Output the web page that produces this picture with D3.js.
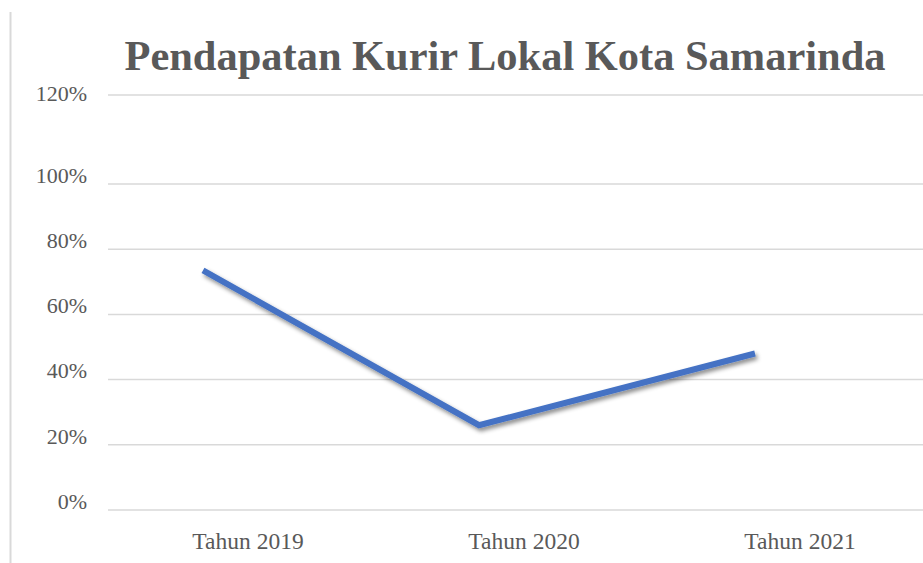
<!DOCTYPE html>
<html>
<head>
<meta charset="utf-8">
<script src="https://cdn.jsdelivr.net/npm/d3@7"></script>
<style>
  body { margin: 0; background: #fff; }
  svg { display: block; }
  text { font-family: "Liberation Serif", "Times New Roman", serif; fill: #595959; }
</style>
</head>
<body>
<svg id="chart" width="923" height="563"></svg>
<script>
const title = "Pendapatan Kurir Lokal Kota Samarinda";
const categories = ["Tahun 2019", "Tahun 2020", "Tahun 2021"];
const values = [0.735, 0.26, 0.48];
const yTicks = [0, 0.2, 0.4, 0.6, 0.8, 1.0, 1.2];

const svg = d3.select("#chart");

// the original axis has a wider gap between 100% and 120%
const y = d3.scaleLinear().domain([0, 1, 1.2]).range([510, 184, 95]);
const x = d3.scaleBand().domain(categories).range([110, 938]);
const lineShift = -45; // line sits left of the category labels in the source

const defs = svg.append("defs");
defs.append("filter")
    .attr("id", "shadow")
    .attr("x", "-20%").attr("y", "-20%")
    .attr("width", "140%").attr("height", "140%")
    .append("feDropShadow")
    .attr("dx", 2).attr("dy", 3)
    .attr("stdDeviation", 2)
    .attr("flood-color", "#000")
    .attr("flood-opacity", 0.45);

// left border of the chart area
svg.append("line")
    .attr("x1", 10.5).attr("x2", 10.5)
    .attr("y1", 12).attr("y2", 563)
    .attr("stroke", "#d9d9d9")
    .attr("stroke-width", 2);

svg.append("text")
    .attr("x", 505)
    .attr("y", 70)
    .attr("text-anchor", "middle")
    .attr("textLength", 761)
    .attr("lengthAdjust", "spacingAndGlyphs")
    .style("font-size", "42px")
    .style("font-weight", "bold")
    .text(title);

// grid
svg.append("g")
    .selectAll("line")
    .data(yTicks)
    .join("line")
    .attr("x1", 108)
    .attr("x2", 938)
    .attr("y1", d => y(d))
    .attr("y2", d => y(d))
    .attr("stroke", "#d9d9d9")
    .attr("stroke-width", 1.5);

// y tick labels
svg.append("g")
    .selectAll("text")
    .data(yTicks)
    .join("text")
    .attr("x", 87)
    .attr("y", d => y(d) + (d === 1.2 ? -2 : -9))
    .attr("dy", "0.35em")
    .attr("text-anchor", "end")
    .style("font-size", "22px")
    .text(d => d3.format(".0%")(d));

// x labels
svg.append("g")
    .selectAll("text")
    .data(categories)
    .join("text")
    .attr("x", d => x(d) + x.bandwidth() / 2)
    .attr("y", 549)
    .attr("text-anchor", "middle")
    .style("font-size", "23.5px")
    .text(d => d);

const line = d3.line()
    .x((d, i) => x(categories[i]) + x.bandwidth() / 2 + lineShift)
    .y(d => y(d));

svg.append("path")
    .datum(values)
    .attr("d", line)
    .attr("fill", "none")
    .attr("stroke", "#4472c4")
    .attr("stroke-width", 6)
    .attr("stroke-linejoin", "miter")
    .attr("filter", "url(#shadow)");
</script>
</body>
</html>
